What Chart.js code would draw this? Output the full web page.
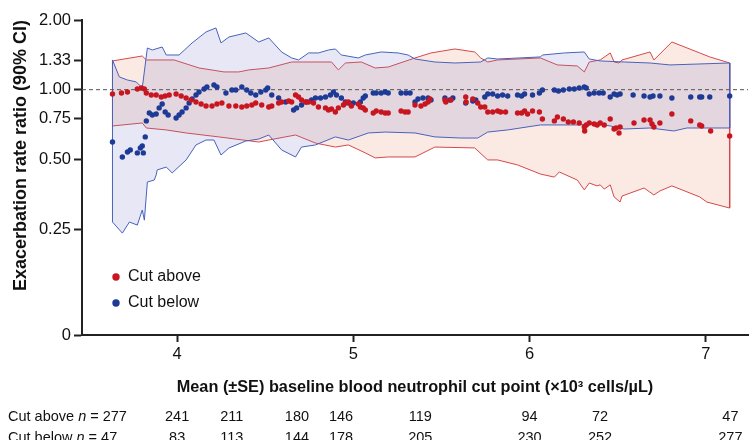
<!DOCTYPE html>
<html>
<head>
<meta charset="utf-8">
<script src="https://cdn.jsdelivr.net/npm/chart.js@4.4.0/dist/chart.umd.min.js"></script>
<style>
  html, body { margin: 0; padding: 0; background: #fff; }
</style>
</head>
<body>
<canvas id="chart" width="752" height="440"></canvas>
<script>
// ratio estimates, [cut point, rate ratio]
var cutAbove = [
  [3.633,0.958],[3.684,0.968],[3.718,0.977],[3.774,1.007],[3.797,1.017],[3.814,1.007],[3.825,0.968],
  [3.853,0.949],[3.881,0.949],[3.910,0.930],[3.932,0.939],[3.955,0.949],[3.994,0.958],[4.023,0.939],
  [4.051,0.921],[4.079,0.903],[4.107,0.885],[4.136,0.867],[4.164,0.850],[4.198,0.850],[4.226,0.867],
  [4.254,0.876],[4.294,0.850],[4.333,0.850],[4.367,0.842],[4.395,0.850],[4.424,0.859],[4.446,0.876],
  [4.480,0.859],[4.520,0.842],[4.537,0.850],[4.576,0.876],[4.593,0.885],[4.633,0.894],[4.650,0.885],
  [4.672,0.949],[4.689,0.930],[4.706,0.903],[4.729,0.885],[4.746,0.885],[4.774,0.876],[4.802,0.842],
  [4.842,0.834],[4.859,0.817],[4.876,0.825],[4.898,0.801],[4.915,0.834],[4.944,0.859],[4.955,0.876],
  [4.972,0.885],[4.989,0.850],[5.028,0.867],[5.040,0.842],[5.056,0.834],[5.068,0.817],[5.113,0.793],
  [5.130,0.809],[5.158,0.801],[5.181,0.793],[5.198,0.793],[5.271,0.809],[5.294,0.801],[5.311,0.801],
  [5.350,0.859],[5.384,0.850],[5.407,0.867],[5.424,0.885],[5.435,0.911],[5.520,0.903],[5.525,0.885],
  [5.554,0.903],[5.638,0.930],[5.640,0.885],[5.678,0.911],[5.706,0.876],[5.723,0.842],[5.746,0.842],
  [5.763,0.801],[5.791,0.801],[5.819,0.809],[5.836,0.801],[5.864,0.801],[5.932,0.793],[5.955,0.793],
  [5.972,0.809],[5.989,0.785],[6.017,0.809],[6.056,0.801],[6.073,0.747],[6.141,0.733],[6.158,0.762],
  [6.192,0.747],[6.220,0.725],[6.249,0.725],[6.282,0.718],[6.311,0.690],[6.313,0.663],[6.322,0.704],
  [6.339,0.718],[6.367,0.711],[6.384,0.704],[6.401,0.718],[6.424,0.704],[6.458,0.747],[6.480,0.676],
  [6.491,0.683],[6.508,0.650],[6.514,0.690],[6.593,0.718],[6.650,0.740],[6.684,0.740],[6.695,0.711],
  [6.706,0.690],[6.740,0.718],[6.808,0.785],[6.915,0.733],[6.966,0.704],[6.977,0.697],[7.028,0.663],
  [7.136,0.631]
];
var cutBelow = [
  [3.633,0.594],[3.689,0.512],[3.718,0.538],[3.734,0.549],[3.774,0.533],[3.791,0.560],[3.802,0.571],
  [3.808,0.533],[3.819,0.625],[3.825,0.733],[3.842,0.793],[3.859,0.777],[3.881,0.785],[3.898,0.834],
  [3.915,0.867],[3.932,0.801],[3.949,0.777],[3.994,0.754],[4.011,0.777],[4.028,0.801],[4.051,0.834],
  [4.068,0.876],[4.085,0.911],[4.107,0.949],[4.124,0.977],[4.153,1.007],[4.169,1.027],[4.209,1.048],
  [4.226,1.027],[4.277,0.968],[4.311,0.997],[4.333,0.997],[4.367,1.027],[4.395,0.997],[4.418,0.968],
  [4.446,0.949],[4.475,0.977],[4.503,0.997],[4.514,1.017],[4.537,0.949],[4.576,0.921],[4.616,0.885],
  [4.661,0.817],[4.678,0.834],[4.706,0.859],[4.734,0.885],[4.763,0.903],[4.785,0.921],[4.814,0.921],
  [4.842,0.930],[4.870,0.949],[4.887,0.977],[4.904,0.949],[4.932,0.921],[4.955,0.885],[4.972,0.876],
  [5.000,0.876],[5.040,0.885],[5.056,0.921],[5.068,0.939],[5.113,0.968],[5.130,0.968],[5.158,0.968],
  [5.181,0.977],[5.198,0.968],[5.271,0.968],[5.299,0.968],[5.322,0.968],[5.350,0.885],[5.367,0.911],
  [5.395,0.921],[5.424,0.921],[5.441,0.903],[5.520,0.921],[5.548,0.903],[5.565,0.921],[5.638,0.876],
  [5.678,0.894],[5.695,0.903],[5.746,0.930],[5.763,0.958],[5.791,0.958],[5.819,0.939],[5.847,0.949],
  [5.876,0.939],[5.932,0.949],[5.955,0.939],[5.972,0.958],[6.017,0.949],[6.056,0.968],[6.073,0.997],
  [6.141,0.997],[6.164,0.987],[6.192,0.997],[6.226,1.007],[6.254,1.007],[6.282,1.017],[6.311,1.027],
  [6.322,1.017],[6.339,0.958],[6.367,0.968],[6.395,0.968],[6.418,0.968],[6.458,0.930],[6.480,0.958],
  [6.497,0.949],[6.514,0.958],[6.588,0.949],[6.650,0.939],[6.684,0.930],[6.701,0.939],[6.740,0.939],
  [6.808,0.921],[6.915,0.930],[6.966,0.930],[6.977,0.930],[7.023,0.930],[7.136,0.939]
];

// 90% CI limits
var aboveUpper = [
  [3.633,1.331],[3.802,1.398],[3.825,1.344],[3.983,1.344],[4.124,1.241],[4.266,1.193],[4.350,1.193],
  [4.407,1.217],[4.520,1.241],[4.650,1.317],[4.876,1.317],[4.915,1.217],[4.955,1.304],[5.045,1.317],
  [5.124,1.241],[5.198,1.253],[5.350,1.371],[5.441,1.441],[5.576,1.499],[5.689,1.455],[5.723,1.371],
  [5.763,1.317],[5.819,1.344],[6.062,1.371],[6.158,1.279],[6.271,1.266],[6.311,1.193],[6.339,1.317],
  [6.401,1.344],[6.458,1.441],[6.480,1.317],[6.508,1.304],[6.525,1.344],[6.684,1.455],[6.706,1.344],
  [6.808,1.607],[6.966,1.441],[7.023,1.385],[7.136,1.304]
];
var aboveLower = [
  [3.633,0.697],[3.802,0.718],[3.825,0.683],[3.938,0.670],[4.051,0.650],[4.237,0.625],[4.463,0.594],
  [4.520,0.606],[4.672,0.637],[4.785,0.588],[4.898,0.565],[4.972,0.577],[5.068,0.533],[5.124,0.507],
  [5.198,0.512],[5.350,0.512],[5.463,0.565],[5.689,0.560],[5.763,0.497],[5.819,0.497],[5.932,0.473],
  [6.062,0.432],[6.141,0.419],[6.169,0.441],[6.271,0.407],[6.311,0.369],[6.339,0.395],[6.384,0.384],
  [6.401,0.388],[6.424,0.372],[6.458,0.388],[6.480,0.344],[6.514,0.327],[6.525,0.347],[6.650,0.376],
  [6.706,0.351],[6.740,0.365],[6.808,0.384],[6.966,0.344],[7.006,0.327],[7.136,0.308]
];
var belowUpper = [
  [3.633,1.344],[3.672,1.135],[3.718,1.101],[3.768,1.080],[3.802,1.017],[3.831,1.514],[3.859,1.484],
  [3.915,1.529],[3.938,1.412],[4.011,1.412],[4.085,1.592],[4.164,1.776],[4.220,1.848],[4.249,1.592],
  [4.294,1.689],[4.390,1.758],[4.463,1.607],[4.520,1.673],[4.593,1.455],[4.650,1.371],[4.689,1.344],
  [4.746,1.441],[4.802,1.441],[4.859,1.484],[4.898,1.499],[4.932,1.412],[5.028,1.371],[5.068,1.412],
  [5.158,1.455],[5.254,1.441],[5.311,1.412],[5.350,1.357],[5.463,1.317],[5.576,1.304],[5.723,1.317],
  [5.763,1.371],[5.819,1.357],[6.062,1.385],[6.073,1.412],[6.198,1.441],[6.311,1.455],[6.339,1.357],
  [6.401,1.331],[6.537,1.317],[6.684,1.304],[6.797,1.279],[7.136,1.304]
];
var belowLower = [
  [3.633,0.268],[3.689,0.240],[3.729,0.268],[3.774,0.260],[3.802,0.302],[3.814,0.273],[3.831,0.399],
  [3.870,0.407],[3.881,0.428],[3.887,0.450],[3.938,0.463],[3.972,0.437],[4.051,0.497],[4.107,0.577],
  [4.164,0.606],[4.209,0.606],[4.249,0.522],[4.294,0.560],[4.390,0.600],[4.463,0.612],[4.520,0.637],
  [4.593,0.549],[4.672,0.512],[4.706,0.565],[4.785,0.577],[4.898,0.625],[4.972,0.606],[5.085,0.650],
  [5.181,0.656],[5.350,0.650],[5.463,0.625],[5.610,0.618],[5.706,0.618],[5.763,0.656],[5.876,0.670],
  [6.062,0.704],[6.271,0.704],[6.384,0.711],[6.458,0.697],[6.537,0.676],[6.684,0.683],[6.819,0.663],
  [6.893,0.683],[7.136,0.683]
];

var yTicks = [0.0871, 0.25, 0.5, 0.75, 1, 4 / 3, 2];
var yTickLabels = ['0', '0.25', '0.50', '0.75', '1.00', '1.33', '2.00'];
var xTicks = [4, 5, 6, 7];

// patients in each group at selected cut points
var tableX = [4.0, 4.31, 4.68, 4.93, 5.38, 6.0, 6.40, 7.14];
var tableAbove = [241, 211, 180, 146, 119, 94, 72, 47];
var tableBelow = [83, 113, 144, 178, 205, 230, 252, 277];

var RED = 'rgb(200,22,32)';
var BLUE = 'rgb(28,58,150)';
var FONT = 'Liberation Sans, Arial, Helvetica, sans-serif';

function pts(arr) {
  return arr.map(function (p) { return { x: p[0], y: p[1] }; });
}

// closed outline: upper limit left to right, lower limit back again
function band(upper, lower) {
  var out = pts(upper).concat(pts(lower).reverse());
  out.push({ x: upper[0][0], y: upper[0][1] });
  return out;
}

var refLine = {
  id: 'refLine',
  afterDatasetDraw: function (chart, args) {
    if (args.index !== 3) return;
    var ctx = chart.ctx, a = chart.chartArea;
    var y = chart.scales.y.getPixelForValue(1);
    ctx.save();
    ctx.strokeStyle = '#555';
    ctx.lineWidth = 1;
    ctx.setLineDash([4, 3]);
    ctx.beginPath();
    ctx.moveTo(a.left, y);
    ctx.lineTo(a.right, y);
    ctx.stroke();
    ctx.restore();
  }
};

var extras = {
  id: 'extras',
  afterDraw: function (chart) {
    var ctx = chart.ctx, a = chart.chartArea;
    var xs = chart.scales.x;
    ctx.save();
    ctx.textBaseline = 'middle';

    // legend
    ctx.font = '16px ' + FONT;
    var items = [['Cut above', RED, 277], ['Cut below', BLUE, 303]];
    items.forEach(function (it) {
      ctx.fillStyle = it[1];
      ctx.beginPath();
      ctx.arc(a.left + 34, it[2], 3.7, 0, Math.PI * 2);
      ctx.fill();
      ctx.fillStyle = '#111';
      ctx.textAlign = 'left';
      ctx.fillText(it[0], a.left + 46, it[2]);
    });

    // numbers at risk
    var f = '14.5px ' + FONT;
    var rows = [['Cut above ', ' = 277', tableAbove, 417], ['Cut below ', ' = 47', tableBelow, 438]];
    rows.forEach(function (r) {
      var x = 8;
      ctx.textAlign = 'left';
      ctx.font = f;
      ctx.fillText(r[0], x, r[3]);
      x += ctx.measureText(r[0]).width;
      ctx.font = 'italic ' + f;
      ctx.fillText('n', x, r[3]);
      x += ctx.measureText('n').width;
      ctx.font = f;
      ctx.fillText(r[1], x, r[3]);
      ctx.textAlign = 'center';
      r[2].forEach(function (v, i) {
        ctx.fillText(String(v), xs.getPixelForValue(tableX[i]), r[3]);
      });
    });
    ctx.restore();
  }
};

var chart = new Chart(document.getElementById('chart'), {
  type: 'scatter',
  data: {
    datasets: [
      {
        label: 'Cut above', data: pts(cutAbove), order: 0,
        backgroundColor: RED, borderWidth: 0, pointRadius: 2.7
      },
      {
        label: 'Cut below', data: pts(cutBelow), order: 1,
        backgroundColor: BLUE, borderWidth: 0, pointRadius: 2.7
      },
      {
        type: 'line', label: 'Cut above CI', data: band(aboveUpper, aboveLower), order: 3,
        borderColor: 'rgb(214,72,72)', borderWidth: 1, backgroundColor: 'rgba(235,150,120,0.2)',
        fill: 'shape', pointRadius: 0, tension: 0
      },
      {
        type: 'line', label: 'Cut below CI', data: band(belowUpper, belowLower), order: 2,
        borderColor: 'rgb(72,98,188)', borderWidth: 1, backgroundColor: 'rgba(120,120,200,0.18)',
        fill: 'shape', pointRadius: 0, tension: 0
      }
    ]
  },
  options: {
    responsive: false,
    animation: false,
    devicePixelRatio: 1,
    layout: { padding: { top: 20, right: 0, left: 0, bottom: 0 } },
    plugins: {
      legend: { display: false },
      tooltip: { enabled: false }
    },
    scales: {
      x: {
        type: 'linear',
        min: 3.46,
        max: 7.24,
        afterBuildTicks: function (s) { s.ticks = xTicks.map(function (v) { return { value: v }; }); },
        afterFit: function (s) { s.height = 105; },
        grid: { drawOnChartArea: false, drawTicks: true, tickLength: 7, tickWidth: 2, tickColor: '#222' },
        border: { display: true, color: '#222', width: 2 },
        ticks: { color: '#111', padding: 3, font: { family: FONT, size: 16.5 } },
        title: {
          display: true,
          text: 'Mean (\u00B1SE) baseline blood neutrophil cut point (\u00D710\u00B3 cells/\u00B5L)',
          color: '#111',
          font: { family: FONT, size: 16.3, weight: 'bold' },
          padding: { top: 0, bottom: 43 }
        }
      },
      y: {
        type: 'logarithmic',
        min: 0.0871,
        max: 2,
        afterBuildTicks: function (s) { s.ticks = yTicks.map(function (v) { return { value: v }; }); },
        afterFit: function (s) { s.width = 82; },
        grid: { drawOnChartArea: false, drawTicks: true, tickLength: 8, tickWidth: 2, tickColor: '#222' },
        border: { display: true, color: '#222', width: 2 },
        ticks: {
          color: '#111',
          padding: 3,
          font: { family: FONT, size: 16.5 },
          callback: function (v) {
            var i = yTicks.indexOf(v);
            return i >= 0 ? yTickLabels[i] : '';
          }
        },
        title: {
          display: true,
          text: 'Exacerbation rate ratio (90% CI)',
          align: 'end',
          color: '#111',
          font: { family: FONT, size: 18, weight: 'bold' },
          padding: { top: 10, bottom: 0 }
        }
      }
    }
  },
  plugins: [refLine, extras]
});
</script>
</body>
</html>
